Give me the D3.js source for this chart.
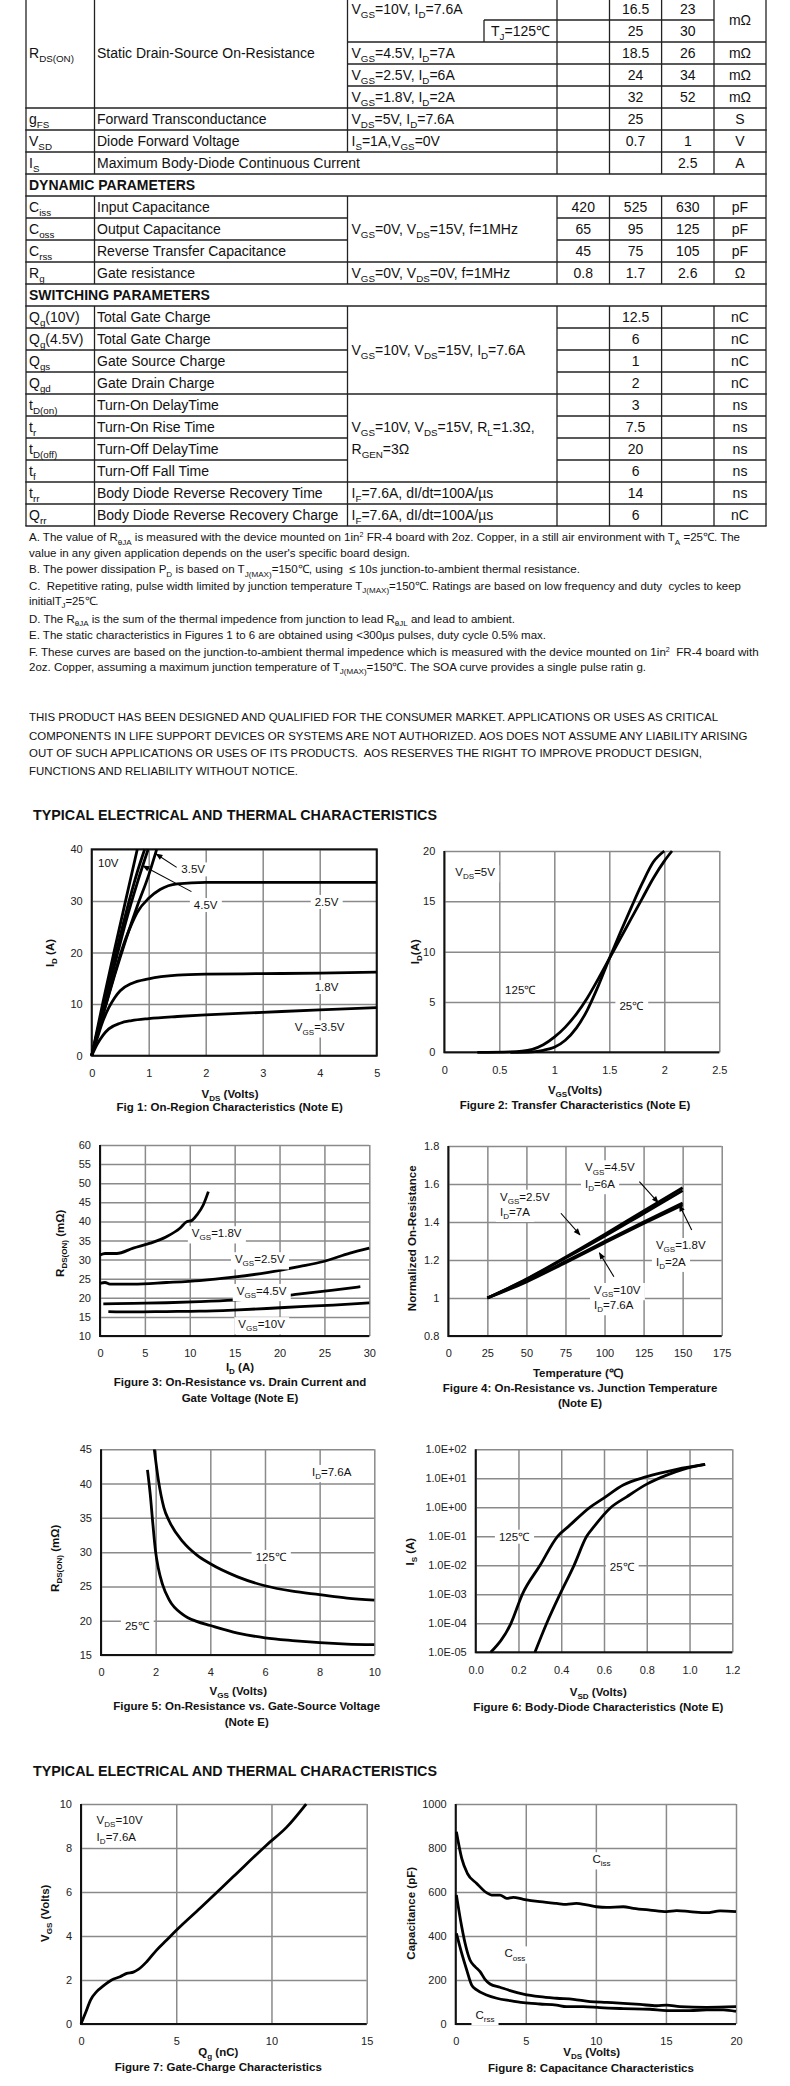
<!DOCTYPE html>
<html><head><meta charset="utf-8">
<script src="https://cdn.jsdelivr.net/npm/d3@7"></script>
<style>
html,body{margin:0;padding:0;background:#fff;}
svg{display:block;}
text{font-family:"Liberation Sans",Arial,Helvetica,sans-serif;fill:#111;}
</style></head><body>
<svg id="page" width="790" height="2086"></svg>
<script>
// ---------------- TABLE DATA ----------------
const tableSymbols = ["", "", "", "", "", "g_{FS}", "V_{SD}", "I_{S}", "", "C_{iss}", "C_{oss}", "C_{rss}", "R_{g}", "",
  "Q_{g}(10V)", "Q_{g}(4.5V)", "Q_{gs}", "Q_{gd}", "t_{D(on)}", "t_{r}", "t_{D(off)}", "t_{f}", "t_{rr}", "Q_{rr}"];
const tableParams = ["", "", "", "", "", "Forward Transconductance", "Diode Forward Voltage", "Maximum Body-Diode Continuous Current", "",
  "Input Capacitance", "Output Capacitance", "Reverse Transfer Capacitance", "Gate resistance", "",
  "Total Gate Charge", "Total Gate Charge", "Gate Source Charge", "Gate Drain Charge", "Turn-On DelayTime", "Turn-On Rise Time",
  "Turn-Off DelayTime", "Turn-Off Fall Time", "Body Diode Reverse Recovery Time", "Body Diode Reverse Recovery Charge"];
const tableHeaders = {8: "DYNAMIC PARAMETERS", 13: "SWITCHING PARAMETERS"};
const condTexts = ["V_{GS}=10V, I_{D}=7.6A", "V_{GS}=4.5V, I_{D}=7A", "V_{GS}=2.5V, I_{D}=6A", "V_{GS}=1.8V, I_{D}=2A",
  "V_{DS}=5V, I_{D}=7.6A", "I_{S}=1A,V_{GS}=0V", "V_{GS}=0V, V_{DS}=15V, f=1MHz", "V_{GS}=0V, V_{DS}=0V, f=1MHz",
  "V_{GS}=10V, V_{DS}=15V, I_{D}=7.6A", "V_{GS}=10V, V_{DS}=15V, R_{L}=1.3Ω,", "R_{GEN}=3Ω",
  "I_{F}=7.6A, dI/dt=100A/µs", "I_{F}=7.6A, dI/dt=100A/µs"];
const condRows = [0, 2, 3, 4, 5, 6, 10, 12, 15.5, 19, 20, 22, 23];
const tableMin = ["", "", "", "", "", "", "", "", "", "420", "65", "45", "0.8", "", "", "", "", "", "", "", "", "", "", ""];
const tableTyp = ["16.5", "25", "18.5", "24", "32", "25", "0.7", "", "", "525", "95", "75", "1.7", "",
  "12.5", "6", "1", "2", "3", "7.5", "20", "6", "14", "6"];
const tableMax = ["23", "30", "26", "34", "52", "", "1", "2.5", "", "630", "125", "105", "2.6", "", "", "", "", "", "", "", "", "", "", ""];
const tableUnits = ["mΩ", "", "mΩ", "mΩ", "mΩ", "S", "V", "A", "", "pF", "pF", "pF", "Ω", "",
  "nC", "nC", "nC", "nC", "ns", "ns", "ns", "ns", "ns", "nC"];

const noteLines = [
  "A. The value of R_{θJA} is measured with the device mounted on 1in^{2} FR-4 board with 2oz. Copper, in a still air environment with T_{A} =25℃. The",
  "value in any given application depends on the user's specific board design.",
  "B. The power dissipation P_{D} is based on T_{J(MAX)}=150℃, using  ≤ 10s junction-to-ambient thermal resistance.",
  "C.  Repetitive rating, pulse width limited by junction temperature T_{J(MAX)}=150℃. Ratings are based on low frequency and duty  cycles to keep",
  "initialT_{J}=25℃.",
  "D. The R_{θJA} is the sum of the thermal impedence from junction to lead R_{θJL} and lead to ambient.",
  "E. The static characteristics in Figures 1 to 6 are obtained using <300µs pulses, duty cycle 0.5% max.",
  "F. These curves are based on the junction-to-ambient thermal impedence which is measured with the device mounted on 1in^{2}  FR-4 board with",
  "2oz. Copper, assuming a maximum junction temperature of T_{J(MAX)}=150℃. The SOA curve provides a single pulse ratin g."];
const disclaimerLines = [
  "THIS PRODUCT HAS BEEN DESIGNED AND QUALIFIED FOR THE CONSUMER MARKET. APPLICATIONS OR USES AS CRITICAL",
  "COMPONENTS IN LIFE SUPPORT DEVICES OR SYSTEMS ARE NOT AUTHORIZED. AOS DOES NOT ASSUME ANY LIABILITY ARISING",
  "OUT OF SUCH APPLICATIONS OR USES OF ITS PRODUCTS.  AOS RESERVES THE RIGHT TO IMPROVE PRODUCT DESIGN,",
  "FUNCTIONS AND RELIABILITY WITHOUT NOTICE."];
const sectionTitle = "TYPICAL ELECTRICAL AND THERMAL CHARACTERISTICS";

// ---------------- CHART DATA ----------------
// Fig 1: ID vs VDS
const f1_xTicks = [0, 1, 2, 3, 4, 5], f1_yTicks = [0, 10, 20, 30, 40];
const f1_vgs10 = [[0,0],[0.2,10.5],[0.4,20.5],[0.6,30.3],[0.8,40]];
const f1_vgsUnlabeled = [[0,0],[0.2,9.5],[0.4,18.7],[0.6,27.6],[0.8,35.6],[0.93,40]];
const f1_vgs45 = [[0,0],[0.2,9],[0.4,17.5],[0.6,26],[0.8,33.5],[0.99,40]];
const f1_vgs35 = [[0,0],[0.2,8],[0.4,15.5],[0.6,22.5],[0.8,29],[1.0,35],[1.14,40]];
const f1_vgs25 = [[0,0],[0.1,4],[0.2,8],[0.3,12],[0.4,15.8],[0.5,19.5],[0.6,22.8],[0.7,25.5],[0.8,27.8],[1.0,30.5],[1.2,32.2],[1.5,33.3],[2,33.6],[3,33.6],[4,33.6],[5,33.6]];
const f1_vgs18 = [[0,0],[0.1,3.5],[0.2,6.8],[0.3,9.3],[0.4,11.2],[0.5,12.6],[0.7,14],[1,14.9],[1.5,15.6],[2,15.8],[3,15.9],[4,16],[5,16.2]];
const f1_vgsLow = [[0,0],[0.1,2.3],[0.2,4],[0.3,5.2],[0.5,6.3],[0.7,6.8],[1,7.2],[1.5,7.6],[2,7.9],[3,8.4],[4,8.9],[5,9.3]];
const f1_labels = [["10V",0.29,37.3],["3.5V",1.78,36.1],["4.5V",2.0,29.2],["2.5V",4.12,29.8],["1.8V",4.12,13.3],["V_{GS}=3.5V",4.0,5.5]];
const f1_arrows = [[1.49,36.5,1.13,39.1],[1.75,31.8,0.9,36.8]];

// Fig 2: ID vs VGS
const f2_xTicks = [0, 0.5, 1, 1.5, 2, 2.5], f2_yTicks = [0, 5, 10, 15, 20];
const f2_t125 = [[0.3,0],[0.6,0.05],[0.8,0.3],[0.9,0.75],[1.0,1.5],[1.1,2.5],[1.2,3.8],[1.3,5.4],[1.4,7.3],[1.5,9.3],[1.6,11.3],[1.7,13.3],[1.8,15.3],[1.9,17.3],[2.0,19.0],[2.07,20]];
const f2_t25 = [[0.6,0],[0.8,0.05],[0.9,0.2],[1.0,0.5],[1.1,1.2],[1.2,2.4],[1.3,4.2],[1.4,6.6],[1.5,9.3],[1.6,11.9],[1.7,14.4],[1.8,16.8],[1.9,18.9],[2.0,20]];
const f2_labels = [["V_{DS}=5V",0.28,17.9],["125℃",0.69,6.2],["25℃",1.7,4.6]];

// Fig 3: RDS(ON) vs ID
const f3_xTicks = [0, 5, 10, 15, 20, 25, 30], f3_yTicks = [10, 15, 20, 25, 30, 35, 40, 45, 50, 55, 60];
const f3_vgs18 = [[0,31.2],[0.56,31.6],[1.86,31.6],[3.7,33.0],[5.6,34.3],[7.4,36.0],[8.9,38.2],[9.65,39.9],[10.2,40.2],[10.8,41.7],[11.5,44.3],[12.07,47.8]];
const f3_vgs25 = [[0,23.8],[0.56,24.0],[1.1,23.6],[3.7,23.6],[7.4,24.0],[11.1,24.5],[14.85,25.4],[18.6,26.6],[22.3,28.2],[24.9,29.5],[27.85,31.7],[30,33.0]];
const f3_vgs45 = [[0.37,18.4],[3.7,18.55],[7.4,18.7],[11.1,19.0],[14.85,19.4],[18.6,20.0],[22.3,21.0],[26,22.0],[29,22.9]];
const f3_vgs10 = [[0.93,16.4],[3.7,16.3],[7.4,16.4],[11.1,16.5],[14.85,16.8],[18.6,17.2],[22.3,17.7],[26,18.1],[30,18.7]];
const f3_labels = [["V_{GS}=1.8V",13.0,36.9],["V_{GS}=2.5V",17.8,30.1],["V_{GS}=4.5V",18.0,21.8],["V_{GS}=10V",18.0,13.1]];

// Fig 4: normalized RDS(ON) vs temperature
const f4_xTicks = [0, 25, 50, 75, 100, 125, 150, 175], f4_yTicks = [0.8, 1, 1.2, 1.4, 1.6, 1.8];
const f4_temp = [25, 50, 75, 100, 125, 150];
const f4_vgs45 = [1, 1.1, 1.215, 1.335, 1.458, 1.58];
const f4_vgs25 = [1, 1.098, 1.21, 1.325, 1.445, 1.565];
const f4_vgs18 = [1, 1.09, 1.192, 1.297, 1.4, 1.5];
const f4_vgs10 = [1, 1.085, 1.186, 1.29, 1.392, 1.49];
const f4_labels = [["V_{GS}=4.5V",87.5,1.688],["I_{D}=6A",87.5,1.6],["V_{GS}=2.5V",33.1,1.533],["I_{D}=7A",33.1,1.454],
  ["V_{GS}=1.8V",132.9,1.279],["I_{D}=2A",132.9,1.191],["V_{GS}=10V",93.3,1.042],["I_{D}=7.6A",93.3,0.963]];
const f4_arrows = [[122.3,1.612,134.4,1.502],[72.1,1.446,84.3,1.332],[155.8,1.358,147.9,1.489],[106,1.112,96.7,1.238]];

// Fig 5: RDS(ON) vs VGS
const f5_xTicks = [0, 2, 4, 6, 8, 10], f5_yTicks = [15, 20, 25, 30, 35, 40, 45];
const f5_t125 = [[1.95,45],[2.1,40.5],[2.3,36.5],[2.5,34.5],[3,31.5],[3.5,29.6],[4,28.3],[5,26.4],[6,25.1],[7,24.3],[8,23.8],[9,23.3],[10,23]];
const f5_t25 = [[1.7,42],[1.8,38.5],[1.9,34],[2,30],[2.1,27.6],[2.25,25.3],[2.5,23],[3,20.9],[3.5,19.9],[4,19.3],[5,18.2],[6,17.5],[7,17.1],[8,16.8],[9,16.6],[10,16.5]];
const f5_labels = [["I_{D}=7.6A",8.44,41.7],["125℃",6.21,29.3],["25℃",1.31,19.2]];

// Fig 6: IS vs VSD (log)
const f6_xTicks = [0, 0.2, 0.4, 0.6, 0.8, 1.0, 1.2], f6_yTicks = [1e-5, 1e-4, 1e-3, 1e-2, 1e-1, 1, 10, 100];
const f6_t125 = [[0.07,1e-5],[0.165,1e-4],[0.218,1e-3],[0.301,1e-2],[0.383,1e-1],[0.433,0.215],[0.534,1],[0.597,2.04],[0.69,5.9],[0.8,11.4],[0.94,20.4],[1.073,30]];
const f6_t25 = [[0.277,1e-5],[0.332,1e-4],[0.394,1e-3],[0.46,1e-2],[0.519,1e-1],[0.553,0.215],[0.628,0.93],[0.706,2.3],[0.8,6.3],[0.893,12.9],[0.97,20.4],[1.073,30]];
const f6_labels = [["125℃",0.179,0.097],["25℃",0.683,0.0089]];

// Fig 7: gate charge
const f7_xTicks = [0, 5, 10, 15], f7_yTicks = [0, 2, 4, 6, 8, 10];
const f7_vgs = [[0,0],[0.26,0.56],[0.5,1.09],[0.82,1.47],[1.17,1.73],[1.61,2.0],[2.05,2.15],[2.4,2.3],[2.75,2.36],[3.01,2.48],[3.45,2.83],[3.97,3.36],[4.5,3.82],[5.02,4.27],[6.25,5.26],[8.0,6.7],[9.75,8.14],[10.8,8.95],[11.82,10]];
const f7_labels = [["V_{DS}=10V",0.82,9.27],["I_{D}=7.6A",0.82,8.5]];

// Fig 8: capacitance
const f8_xTicks = [0, 5, 10, 15, 20], f8_yTicks = [0, 200, 400, 600, 800, 1000];
const f8_ciss = [[0.05,874],[0.43,753],[0.83,685],[1.5,639],[2.2,597],[2.57,586],[3.16,586],[3.64,571],[4.1,576],[4.83,567],[6.0,556],[7.2,548],[7.9,544],[8.6,548],[9.35,541],[10.06,533],[10.77,530],[11.96,533],[12.68,526],[13.86,518],[15.05,511],[15.77,515],[16.7,511],[17.9,506],[18.86,514],[20,511]];
const f8_coss = [[0.05,586],[0.43,442],[0.67,367],[1.02,291],[1.38,261],[1.74,238],[2.09,203],[2.45,182],[3.16,167],[3.88,152],[4.83,136],[6.0,124],[7.2,117],[8.4,112],[9.58,102],[10.77,98],[11.96,94],[13.15,89],[14.34,83],[15.05,86],[16.0,79],[17.9,76],[20,79]];
const f8_crss = [[0.05,412],[0.43,321],[0.79,245],[1.14,177],[1.5,155],[2.2,132],[2.93,117],[3.88,106],[4.83,97],[6.0,91],[7.2,86],[7.9,79],[9.1,79],[10.3,74],[11.96,70],[13.86,67],[15.05,61],[16.7,61],[17.9,64],[19.1,64],[20,57]];
const f8_labels = [["C_{iss}",10.4,749],["C_{oss}",4.23,321],["C_{rss}",2.09,41]];

// ---------------- HELPERS ----------------
const FONT = '"Liberation Sans", Arial, Helvetica, sans-serif';
const svg = d3.select('#page');
const defs = svg.append('defs');
defs.append('marker').attr('id', 'ah').attr('viewBox', '0 0 10 10').attr('refX', 9).attr('refY', 5)
  .attr('markerWidth', 8).attr('markerHeight', 7).attr('markerUnits', 'userSpaceOnUse').attr('orient', 'auto')
  .append('path').attr('d', 'M0,1 L10,5 L0,9 z').attr('fill', '#000');

function rich(t, str, size) {
  const parts = String(str).split(/(_\{[^}]*\}|\^\{[^}]*\})/).filter(s => s.length);
  let cur = 0;
  parts.forEach(p => {
    let shift = 0, fs = size, s = p;
    if (p.startsWith('_{')) { shift = size * 0.28; fs = size * 0.7; s = p.slice(2, -1); }
    else if (p.startsWith('^{')) { shift = -size * 0.4; fs = size * 0.62; s = p.slice(2, -1); }
    t.append('tspan').attr('dy', (shift - cur).toFixed(2)).attr('font-size', fs).text(s);
    cur = shift;
  });
  return t;
}
function txt(parent, x, y, str, o = {}) {
  const size = o.size || 14;
  const t = parent.append('text')
    .attr('x', x).attr('y', o.rotate ? y + 0.35 * size : y)
    .attr('font-size', size)
    .attr('text-anchor', o.anchor || 'start')
    .style('white-space', 'pre');
  if (o.bold) t.attr('font-weight', 'bold');
  if (o.fill) t.style('fill', o.fill);
  if (o.rotate) t.attr('transform', `rotate(-90 ${x} ${y})`);
  if (o.width) t.attr('textLength', o.width).attr('lengthAdjust', 'spacingAndGlyphs');
  rich(t, str, size);
  return t;
}

// ---------------- TABLE ----------------
const tg = svg.append('g');
const COLX = [26, 94.5, 347.5, 557, 609.5, 661.6, 714, 766];
const TJX = 484;
const ROWH = 22, TOP = -2;
const ry = r => TOP + ROWH * r;
const LS = '#222', LW = 1.3;
function hline(y, x1, x2) { tg.append('line').attr('x1', x1).attr('x2', x2).attr('y1', y).attr('y2', y).attr('stroke', LS).attr('stroke-width', LW); }
function vline(x, y1, y2) { tg.append('line').attr('x1', x).attr('x2', x).attr('y1', y1).attr('y2', y2).attr('stroke', LS).attr('stroke-width', LW); }
for (let k = 0; k <= 24; k++) {
  if (k === 1) hline(ry(1), TJX, COLX[6]);
  else if (k >= 2 && k <= 4) hline(ry(k), COLX[2], COLX[7]);
  else if ([10, 11, 15, 16, 17, 19, 20, 21].includes(k)) { hline(ry(k), COLX[0], COLX[2]); hline(ry(k), COLX[3], COLX[7]); }
  else hline(ry(k), COLX[0] - 0.65, COLX[7] + 0.65);
}
for (let r = 0; r < 24; r++) {
  const y1 = ry(r), y2 = ry(r + 1);
  if (tableHeaders[r]) { vline(COLX[0], y1, y2); vline(COLX[7], y1, y2); continue; }
  COLX.forEach((x, i) => { if (!(i === 2 && r === 7)) vline(x, y1, y2); });
  if (r === 1) vline(TJX, y1, y2);
}
const base = r => ry(r) + 11 + 5;
txt(tg, 29, ry(0) + 55 + 5, "R_{DS(ON)}");
txt(tg, 97, ry(0) + 55 + 5, "Static Drain-Source On-Resistance");
for (let r = 0; r < 24; r++) {
  if (tableHeaders[r]) { txt(tg, 29, base(r), tableHeaders[r], {bold: true}); continue; }
  if (tableSymbols[r]) txt(tg, 29, base(r), tableSymbols[r]);
  if (tableParams[r]) txt(tg, 97, base(r), tableParams[r]);
  const cc = [583.25, 635.55, 687.8];
  [tableMin, tableTyp, tableMax].forEach((arr, j) => { if (arr[r]) txt(tg, cc[j], base(r), arr[r], {anchor: 'middle'}); });
  if (tableUnits[r]) txt(tg, 740, r === 0 ? ry(1) + 5 : base(r), tableUnits[r], {anchor: 'middle'});
}
txt(tg, 520.5, base(1), "T_{J}=125℃", {anchor: 'middle'});
condTexts.forEach((c, i) => txt(tg, 351.5, TOP + ROWH * condRows[i] + 16, c));

// ---------------- NOTES ----------------
const noteY = [537.3, 553.3, 569.3, 585.7, 601, 618.7, 635.3, 652.3, 666.7];
const noteW = [711, 381, 551, 712, 69.5, 486, 517, 729.6, 617];
noteLines.forEach((l, i) => txt(svg, 29, noteY[i] + 4, l, {size: 11.5, width: noteW[i]}));
const discY = [716.7, 735.7, 753.3, 770.7];
const discW = [689, 718.5, 673, 269];
disclaimerLines.forEach((l, i) => txt(svg, 29, discY[i] + 4, l, {size: 11.5, width: discW[i]}));
txt(svg, 33, 820, sectionTitle, {size: 14, bold: true, width: 404});
txt(svg, 33, 1775.7, sectionTitle, {size: 14, bold: true, width: 404});

// ---------------- CHARTS ----------------
function makeChart(o) {
  const x = d3.scaleLinear().domain(o.xDom).range([o.L, o.R]);
  const y = (o.log ? d3.scaleLog() : d3.scaleLinear()).domain(o.yDom).range([o.B, o.T]);
  const g = svg.append('g');
  const gridStyle = s => { s.select('.domain').remove(); s.selectAll('.tick line').attr('stroke', '#8a8a8a').attr('stroke-width', 1.5); };
  g.append('g').attr('transform', `translate(0,${o.B})`)
    .call(d3.axisBottom(x).tickValues(o.xTicks).tickSize(-(o.B - o.T)).tickFormat('')).call(gridStyle);
  g.append('g').attr('transform', `translate(${o.L},0)`)
    .call(d3.axisLeft(y).tickValues(o.yTicks).tickSize(-(o.R - o.L)).tickFormat('')).call(gridStyle);
  if (o.blackFrame) g.append('rect').attr('x', o.L).attr('y', o.T).attr('width', o.R - o.L).attr('height', o.B - o.T)
    .attr('fill', 'none').attr('stroke', '#111').attr('stroke-width', 2);
  else g.append('path').attr('d', `M${o.L},${o.T}V${o.B}H${o.R}`).attr('fill', 'none').attr('stroke', '#111').attr('stroke-width', 2);
  const labStyle = s => { s.select('.domain').remove(); s.attr('font-family', FONT).attr('font-size', 11); s.selectAll('text').style('fill', '#222'); };
  g.append('g').attr('transform', `translate(0,${o.B})`)
    .call(d3.axisBottom(x).tickValues(o.xTicks).tickSize(0).tickPadding(13.5).tickFormat(o.xFmt || (d => String(d)))).call(labStyle);
  g.append('g').attr('transform', `translate(${o.L},0)`)
    .call(d3.axisLeft(y).tickValues(o.yTicks).tickSize(0).tickPadding(9).tickFormat(o.yFmt || (d => String(d)))).call(labStyle);
  const curves = g.append('g'), labels = g.append('g'), annot = g.append('g');
  const c = {x, y, g, labels, curves, annot};
  txt(g, o.yTitle[1], o.yTitle[2], o.yTitle[0], {size: 11.5, bold: true, anchor: 'middle', rotate: true});
  txt(g, o.xTitle[1], o.xTitle[2] + 4, o.xTitle[0], {size: 11.5, bold: true, anchor: 'middle'});
  o.caption.forEach(cp => txt(g, cp[1], cp[2] + 4, cp[0], {size: 11.5, bold: true, anchor: 'middle'}));
  return c;
}
function drawCurve(c, data) {
  const line = d3.line().x(d => c.x(d[0])).y(d => c.y(d[1])).curve(d3.curveMonotoneX);
  c.curves.append('path').attr('d', line(data)).attr('fill', 'none').attr('stroke', '#000').attr('stroke-width', 2.8);
}
function drawLabels(c, labs, anchor = 'middle') {
  labs.forEach(l => {
    const grp = c.labels.append('g');
    const t = txt(grp, c.x(l[1]), c.y(l[2]) + 4, l[0], {size: 11.5, anchor});
    const bb = t.node().getBBox();
    grp.insert('rect', 'text').attr('x', bb.x - 4).attr('y', bb.y - 1).attr('width', bb.width + 8).attr('height', bb.height + 2).attr('fill', '#fff');
  });
}
function drawArrows(c, arrs) {
  arrs.forEach(a => c.annot.append('line').attr('x1', c.x(a[0])).attr('y1', c.y(a[1])).attr('x2', c.x(a[2])).attr('y2', c.y(a[3]))
    .attr('stroke', '#000').attr('stroke-width', 1.1).attr('marker-end', 'url(#ah)'));
}

// Fig 1
const c1 = makeChart({L: 91.7, R: 376.7, T: 849.3, B: 1055.7, xDom: [0, 5], yDom: [0, 40], xTicks: f1_xTicks, yTicks: f1_yTicks, blackFrame: true,
  yTitle: ["I_{D} (A)", 50, 953], xTitle: ["V_{DS} (Volts)", 230, 1094], caption: [["Fig 1: On-Region Characteristics (Note E)", 229.7, 1107]]});
[f1_vgs10, f1_vgsUnlabeled, f1_vgs45, f1_vgs35, f1_vgs25, f1_vgs18, f1_vgsLow].forEach(d => drawCurve(c1, d));
drawLabels(c1, f1_labels);
drawArrows(c1, f1_arrows);

// Fig 2
const c2 = makeChart({L: 444.3, R: 719.3, T: 851, B: 1052.3, xDom: [0, 2.5], yDom: [0, 20], xTicks: f2_xTicks, yTicks: f2_yTicks,
  yTitle: ["I_{D}(A)", 415, 951.7], xTitle: ["V_{GS}(Volts)", 575, 1090], caption: [["Figure 2: Transfer Characteristics (Note E)", 575, 1105]]});
[f2_t125, f2_t25].forEach(d => drawCurve(c2, d));
drawLabels(c2, f2_labels);

// Fig 3
const c3 = makeChart({L: 100, R: 369.3, T: 1145, B: 1336, xDom: [0, 30], yDom: [10, 60], xTicks: f3_xTicks, yTicks: f3_yTicks,
  yTitle: ["R_{DS(ON)} (mΩ)", 60, 1243.3], xTitle: ["I_{D} (A)", 240, 1366.7],
  caption: [["Figure 3: On-Resistance vs. Drain Current and", 240, 1382.3], ["Gate Voltage (Note E)", 240, 1398.3]]});
[f3_vgs18, f3_vgs25, f3_vgs45, f3_vgs10].forEach(d => drawCurve(c3, d));
drawLabels(c3, f3_labels);

// Fig 4
const c4 = makeChart({L: 448.3, R: 721.7, T: 1146, B: 1336, xDom: [0, 175], yDom: [0.8, 1.8], xTicks: f4_xTicks, yTicks: f4_yTicks,
  yTitle: ["Normalized On-Resistance", 411.7, 1238.3], xTitle: ["Temperature (℃)", 578.3, 1373.3],
  caption: [["Figure 4: On-Resistance vs. Junction Temperature", 580, 1388.3], ["(Note E)", 580, 1403.3]]});
[f4_vgs45, f4_vgs25, f4_vgs18, f4_vgs10].forEach(v => drawCurve(c4, f4_temp.map((t, i) => [t, v[i]])));
drawLabels(c4, f4_labels, 'start');
drawArrows(c4, f4_arrows);

// Fig 5
const c5 = makeChart({L: 101, R: 374.3, T: 1449.3, B: 1655, xDom: [0, 10], yDom: [15, 45], xTicks: f5_xTicks, yTicks: f5_yTicks,
  yTitle: ["R_{DS(ON)} (mΩ)", 55, 1558.3], xTitle: ["V_{GS} (Volts)", 238.3, 1690.7],
  caption: [["Figure 5: On-Resistance vs. Gate-Source Voltage", 246.7, 1706], ["(Note E)", 246.7, 1721.7]]});
[f5_t125, f5_t25].forEach(d => drawCurve(c5, d));
drawLabels(c5, f5_labels);

// Fig 6
const expFmt = d => { const e = Math.round(Math.log10(d)); return "1.0E" + (e < 0 ? "-" : "+") + String(Math.abs(e)).padStart(2, '0'); };
const c6 = makeChart({L: 475.7, R: 732.3, T: 1449.3, B: 1652.3, xDom: [0, 1.2], yDom: [1e-5, 100], log: true, xTicks: f6_xTicks, yTicks: f6_yTicks,
  xFmt: d3.format('.1f'), yFmt: expFmt,
  yTitle: ["I_{S} (A)", 410, 1551.7], xTitle: ["V_{SD} (Volts)", 598.3, 1691.7],
  caption: [["Figure 6: Body-Diode Characteristics (Note E)", 598.3, 1707.3]]});
[f6_t125, f6_t25].forEach(d => drawCurve(c6, d));
drawLabels(c6, f6_labels);

// Fig 7
const c7 = makeChart({L: 81, R: 366.7, T: 1804, B: 2024, xDom: [0, 15], yDom: [0, 10], xTicks: f7_xTicks, yTicks: f7_yTicks,
  yTitle: ["V_{GS} (Volts)", 45, 1913.3], xTitle: ["Q_{g} (nC)", 218.3, 2051.7],
  caption: [["Figure 7: Gate-Charge Characteristics", 218.3, 2067.3]]});
drawCurve(c7, f7_vgs);
drawLabels(c7, f7_labels, 'start');

// Fig 8
const c8 = makeChart({L: 455.7, R: 736, T: 1804, B: 2024, xDom: [0, 20], yDom: [0, 1000], xTicks: f8_xTicks, yTicks: f8_yTicks,
  yTitle: ["Capacitance (pF)", 410.7, 1913.3], xTitle: ["V_{DS} (Volts)", 591.7, 2051.7],
  caption: [["Figure 8: Capacitance Characteristics", 591, 2067.7]]});
[f8_ciss, f8_coss, f8_crss].forEach(d => drawCurve(c8, d));
drawLabels(c8, f8_labels);
</script></body></html>
